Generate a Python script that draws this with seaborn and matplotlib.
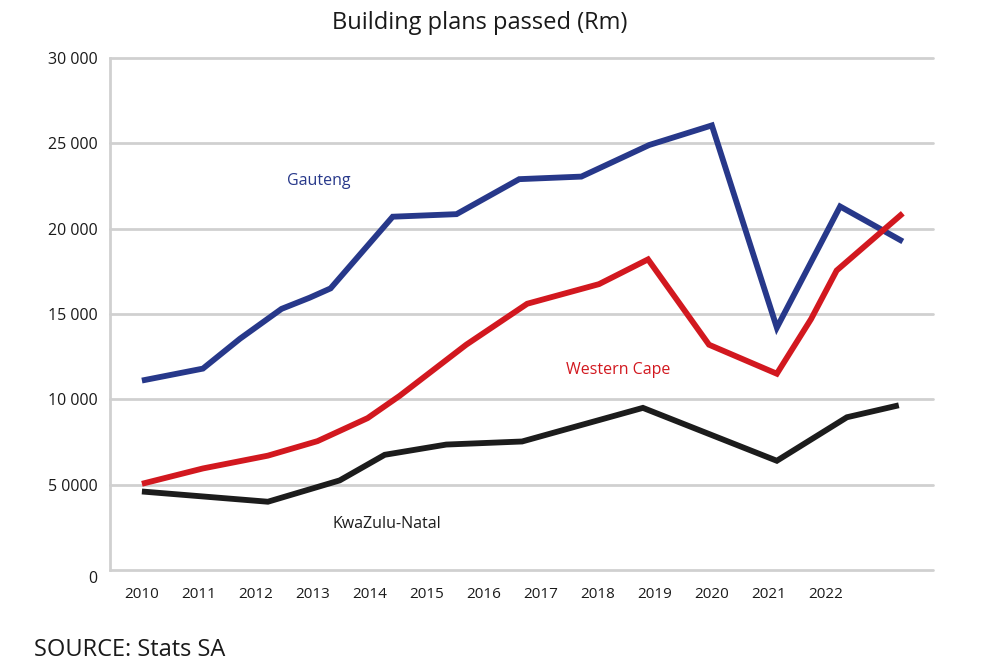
import pandas as pd
import matplotlib
matplotlib.use("Agg")
import matplotlib.pyplot as plt
import matplotlib.transforms as mtransforms
import seaborn as sns

# values (Rm), x = position on the year axis
gauteng_x = [2010.00, 2011.07, 2011.72, 2012.45, 2012.94, 2013.31, 2014.40, 2015.52,
             2016.62, 2017.71, 2018.90, 2020.00, 2021.14, 2022.25, 2023.35]
gauteng_y = [11100, 11800, 13550, 15300, 15950, 16500, 20700, 20850,
             22900, 23050, 24900, 26050, 14200, 21300, 19250]

wcape_x = [2010.00, 2011.07, 2012.21, 2013.08, 2013.96, 2014.52, 2015.69, 2016.76,
           2018.02, 2018.88, 2019.95, 2021.14, 2021.74, 2022.19, 2023.35]
wcape_y = [5050, 5950, 6700, 7550, 8900, 10200, 13200, 15600,
           16750, 18200, 13200, 11500, 14700, 17550, 20900]

kzn_x = [2010.00, 2012.21, 2013.47, 2014.26, 2015.34, 2016.67, 2018.79, 2021.14, 2022.37, 2023.28]
kzn_y = [4600, 4000, 5250, 6750, 7350, 7530, 9500, 6400, 8950, 9650]

years = [2010, 2011, 2012, 2013, 2014, 2015, 2016, 2017, 2018, 2019, 2020, 2021, 2022]
year_labels = [str(y) for y in years]
y_ticks = [0, 5000, 10000, 15000, 20000, 25000, 30000]
y_labels = ["0", "5 0000", "10 000", "15 000", "20 000", "25 000", "30 000"]

colours = {"Gauteng": "#27388a", "Western Cape": "#d2181f", "KwaZulu-Natal": "#1c1c1c"}

df = pd.concat([
    pd.DataFrame({"year": gauteng_x, "value": gauteng_y, "region": "Gauteng"}),
    pd.DataFrame({"year": wcape_x, "value": wcape_y, "region": "Western Cape"}),
    pd.DataFrame({"year": kzn_x, "value": kzn_y, "region": "KwaZulu-Natal"}),
])

sns.set_style("white")
plt.rcParams["font.family"] = ["Open Sans", "DejaVu Sans"]

fig = plt.figure(figsize=(10, 6.68), dpi=100)
ax = fig.add_axes([0.11, 0.1467, 0.823, 0.7665])

grid_col = "#d0d0d0"
for v in y_ticks:
    ax.axhline(v, color=grid_col, lw=2.0, zorder=1, clip_on=False)

sns.lineplot(data=df, x="year", y="value", hue="region", palette=colours,
             estimator=None, sort=False, lw=4.2, legend=False, ax=ax, zorder=3,
             solid_joinstyle="miter", solid_capstyle="butt")

ax.set_xlim(2009.44, 2023.88)
ax.set_ylim(0, 30000)

ax.set_xticks(years)
ax.set_xticklabels(year_labels, fontsize=11, color="#1a1a1a")
ax.set_yticks(y_ticks)
ax.set_yticklabels(y_labels, fontsize=11.5, color="#1a1a1a")
ax.tick_params(axis="both", length=0)
ax.tick_params(axis="x", pad=12)
ax.tick_params(axis="y", pad=9)
ax.set_xlabel("")
ax.set_ylabel("")

# the "0" label sits a little below the baseline in the original
for lab in ax.get_yticklabels():
    if lab.get_text() == "0":
        lab.set_transform(lab.get_transform() +
                          mtransforms.ScaledTranslation(0, -7 / 100, fig.dpi_scale_trans))

for side in ["top", "right", "bottom"]:
    ax.spines[side].set_visible(False)
ax.spines["left"].set_color(grid_col)
ax.spines["left"].set_linewidth(2.0)

ax.text(2013.10, 22800, "Gauteng", color=colours["Gauteng"], fontsize=11.5,
        ha="center", va="center")
ax.text(2018.36, 11700, "Western Cape", color=colours["Western Cape"], fontsize=11.5,
        ha="center", va="center")
ax.text(2014.29, 2700, "KwaZulu-Natal", color=colours["KwaZulu-Natal"], fontsize=11.5,
        ha="center", va="center")

fig.text(0.48, 0.965, "Building plans passed (Rm)", fontsize=17, ha="center",
         va="center", color="#1a1a1a")
fig.text(0.034, 0.027, "SOURCE: Stats SA", fontsize=17, ha="left", va="center",
         color="#1a1a1a")

fig.savefig("out.png", dpi=100, facecolor="white")
